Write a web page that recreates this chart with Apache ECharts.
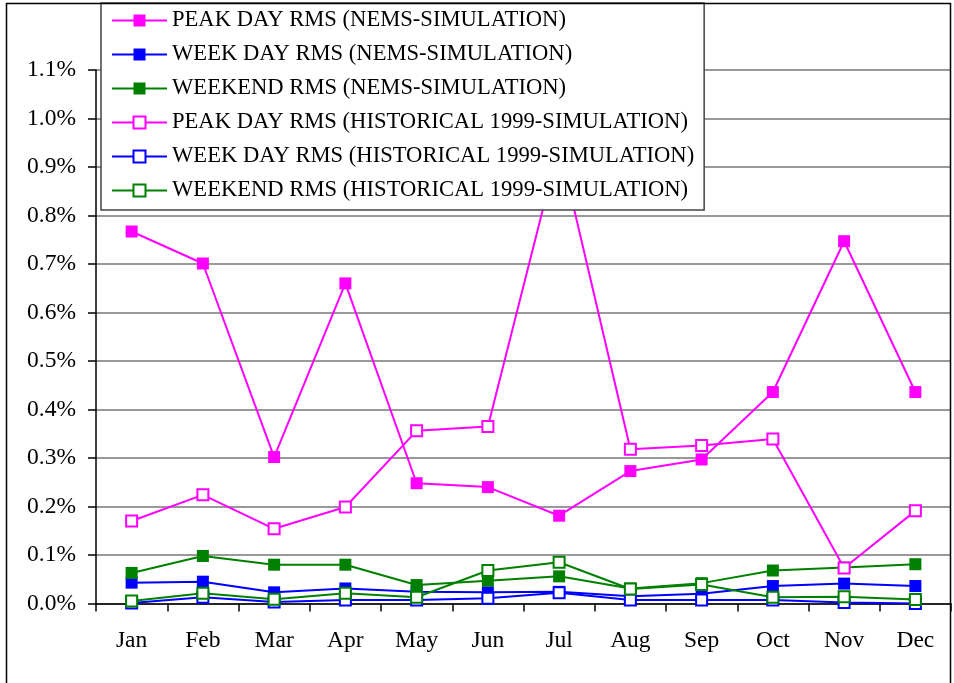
<!DOCTYPE html>
<html>
<head>
<meta charset="utf-8">
<script src="https://cdn.jsdelivr.net/npm/echarts@6/dist/echarts.min.js"></script>
<style>
  html, body { margin: 0; padding: 0; background: #fff; }
  #chart { width: 954px; height: 683px; }
</style>
</head>
<body>
<div id="chart"></div>
<script>
const months = ['Jan', 'Feb', 'Mar', 'Apr', 'May', 'Jun', 'Jul', 'Aug', 'Sep', 'Oct', 'Nov', 'Dec']

// values in percent
const peakNems = [0.767, 0.701, 0.302, 0.660, 0.248, 0.240, 0.181, 0.273, 0.297, 0.436, 0.747, 0.436]
const weekdayNems = [0.043, 0.045, 0.023, 0.031, 0.024, 0.023, 0.024, 0.015, 0.020, 0.036, 0.041, 0.036]
const weekendNems = [0.063, 0.098, 0.080, 0.080, 0.038, 0.047, 0.056, 0.031, 0.042, 0.068, 0.074, 0.081]
const peakHist = [0.170, 0.224, 0.154, 0.199, 0.356, 0.365, 0.945, 0.318, 0.326, 0.339, 0.073, 0.191]
const weekdayHist = [0.001, 0.013, 0.003, 0.007, 0.007, 0.011, 0.022, 0.007, 0.007, 0.007, 0.002, 0.000]
const weekendHist = [0.005, 0.021, 0.009, 0.021, 0.013, 0.068, 0.085, 0.030, 0.039, 0.013, 0.014, 0.008]

const seriesNames = [
    'PEAK DAY RMS (NEMS-SIMULATION)',
    'WEEK DAY RMS (NEMS-SIMULATION)',
    'WEEKEND RMS (NEMS-SIMULATION)',
    'PEAK DAY RMS (HISTORICAL 1999-SIMULATION)',
    'WEEK DAY RMS (HISTORICAL 1999-SIMULATION)',
    'WEEKEND RMS (HISTORICAL 1999-SIMULATION)'
]
const seriesData = [peakNems, weekdayNems, weekendNems, peakHist, weekdayHist, weekendHist]
const seriesColors = ['#ff00ff', '#0000ff', '#008000', '#ff00ff', '#0000ff', '#008000']

const font = '"Liberation Serif", "Times New Roman", serif'

const chart = echarts.init(document.getElementById('chart'))

const makeSeries = (i) => {
    const hollow = i >= 3
    return {
        name: seriesNames[i],
        type: 'line',
        data: seriesData[i],
        symbol: hollow ? 'emptyRect' : 'rect',
        symbolSize: hollow ? 11 : 12,
        showAllSymbol: true,
        lineStyle: { color: seriesColors[i], width: 2 },
        itemStyle: {
            color: seriesColors[i],
            borderColor: seriesColors[i],
            borderWidth: hollow ? 2 : 0
        },
        emphasis: { disabled: true },
        animation: false
    }
}

chart.setOption({
    animation: false,
    textStyle: { fontFamily: font },
    graphic: [
        {
            type: 'rect',
            shape: { x: 6.5, y: 3.5, width: 944, height: 700 },
            style: { fill: 'none', stroke: '#000', lineWidth: 1.5 },
            z: 10
        }
    ],
    legend: {
        orient: 'vertical',
        left: 101,
        top: 3,
        padding: [6, 10, 8, 10],
        itemWidth: 55,
        itemHeight: 15,
        itemGap: 11,
        backgroundColor: '#fff',
        borderColor: '#444',
        borderWidth: 1.5,
        textStyle: { fontFamily: font, fontSize: 22.6, color: '#000', lineHeight: 23 },
        data: seriesNames,
        z: 8
    },
    grid: {
        left: 96,
        right: 3,
        top: 70,
        bottom: 79.5,
        containLabel: false
    },
    xAxis: {
        type: 'category',
        data: months,
        boundaryGap: true,
        axisLine: { lineStyle: { color: '#000', width: 1.5 } },
        axisTick: { show: true, length: 8, inside: false, lineStyle: { color: '#000', width: 1.5 } },
        axisLabel: { color: '#000', fontSize: 23.5, fontFamily: font, margin: 25 },
        splitLine: { show: false }
    },
    yAxis: {
        type: 'value',
        min: 0,
        max: 1.1,
        interval: 0.1,
        axisLine: { show: true, lineStyle: { color: '#000', width: 1.5 } },
        axisTick: { show: true, length: 8, lineStyle: { color: '#000', width: 1.5 } },
        axisLabel: {
            color: '#000',
            fontSize: 23.5,
            fontFamily: font,
            margin: 20,
            formatter: (v) => v.toFixed(1) + '%'
        },
        splitLine: { show: true, lineStyle: { color: '#777', width: 1.5 } }
    },
    series: [0, 1, 2, 3, 4, 5].map(makeSeries)
})
</script>
</body>
</html>
